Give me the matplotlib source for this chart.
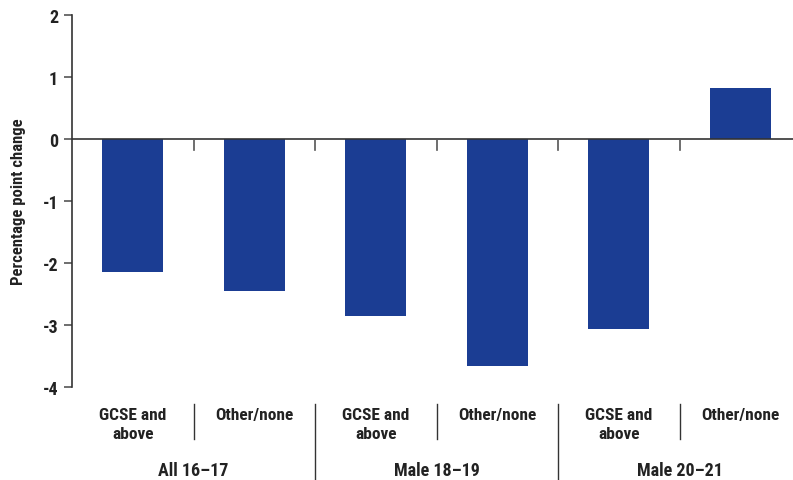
import matplotlib.pyplot as plt
import matplotlib.transforms as mtransforms
import matplotlib.font_manager as fm
import numpy as np

groups = ['All 16\u201317', 'Male 18\u201319', 'Male 20\u201321']
categories = ['GCSE and\nabove', 'Other/none']
values = [-2.15, -2.45, -2.85, -3.66, -3.06, 0.82]

installed = sorted({f.name for f in fm.fontManager.ttflist})
wanted = [f for f in ['Roboto Condensed', 'Liberation Sans Narrow', 'Open Sans Condensed',
                      'Liberation Sans', 'DejaVu Sans'] if f in installed]
plt.rcParams['font.family'] = wanted
plt.rcParams['font.weight'] = 'bold'
narrow = wanted[0] in ('Roboto Condensed', 'Liberation Sans Narrow', 'Open Sans Condensed')

fig = plt.figure(figsize=(7.93, 4.81), dpi=100)
W, H = 793, 481
ax = fig.add_axes([72 / W, 1 - 388 / H, 1 - 72 / W, (388 - 16) / H])

n = len(values)
x = np.arange(n)
ax.bar(x, values, width=0.5, color='#1b3d93', zorder=2)
ax.axhline(0, color='#333333', lw=1.2, zorder=3)

fs = 13 if narrow else 12
ax.set_xlim(-0.5, n - 0.5 - 8 / 121.4)
ax.set_ylim(-4, 2)
ax.set_yticks(range(-4, 3))
ax.set_yticklabels([str(v) for v in range(-4, 3)], fontsize=fs, fontweight='bold', color='#222222')
ax.tick_params(axis='y', length=6, width=1.2, color='#555555', pad=4)
ax.set_xticks([])
for s in ['top', 'right', 'bottom']:
    ax.spines[s].set_visible(False)
ax.spines['left'].set_color('#333333')
ax.spines['left'].set_linewidth(1.2)
ax.set_ylabel('Percentage point change', fontsize=fs - 1, fontweight='bold', color='#222222', labelpad=12)

# small ticks below the zero line between bars
for b in x[:-1] + 0.5:
    ax.plot([b, b], [0, -0.18], color='#555555', lw=1.2, zorder=3, clip_on=False)

tr = mtransforms.blended_transform_factory(ax.transData, fig.transFigure)
def fy(p):
    return 1 - p / H

for i in range(n):
    ax.text(i, fy(408), categories[i % 2], transform=tr, ha='center', va='top',
            fontsize=fs - 0.5, fontweight='bold', color='#222222', linespacing=1.3)
for i in range(1, n):
    if i % 2 == 1:
        ax.plot([i - 0.5, i - 0.5], [fy(405), fy(440)], transform=tr, color='#333333', lw=1, clip_on=False)
    else:
        ax.plot([i - 0.5, i - 0.5], [fy(405), fy(481)], transform=tr, color='#333333', lw=1, clip_on=False)
for g, name in enumerate(groups):
    ax.text(2 * g + 0.5, fy(476), name, transform=tr, ha='center', va='baseline',
            fontsize=fs, fontweight='bold', color='#222222')

fig.savefig('out.png', dpi=100)
